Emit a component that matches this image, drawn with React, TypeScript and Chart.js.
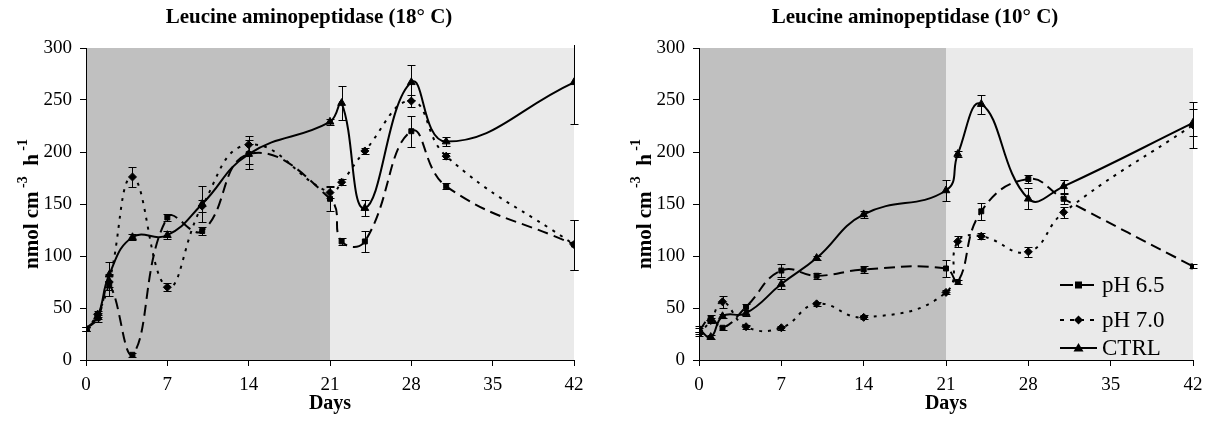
import React, { useEffect, useRef } from "react";
import { Chart, registerables } from "chart.js";

Chart.register(...registerables);

// ---------- data ----------
const days = [0, 1, 2, 4, 7, 10, 14, 21, 22, 24, 28, 31, 42];
const xTickValues = [0, 7, 14, 21, 28, 35, 42];
const yTickValues = [0, 50, 100, 150, 200, 250, 300];
const seriesLabels = ["pH 6.5", "pH 7.0", "CTRL"];
const phaseBoundaryDay = 21;
const titles = ["Leucine aminopeptidase (18° C)", "Leucine aminopeptidase (10° C)"];
const xAxisTitle = "Days";

// 18 °C
const ph65At18 = [30, 40, 72, 5, 137, 124, 198, 155, 114, 114, 220, 167, 111];
const ph65At18Err = [2, 3, 10, 2, 3, 4, 10, 12, 3, 10, 15, 3, 24];
const ph70At18 = [30, 44, 75, 176, 70, 148, 207, 161, 171, 201, 249, 196, 111];
const ph70At18Err = [2, 3, 8, 10, 4, 6, 8, 5, 3, 3, 6, 3, 24];
const ctrlAt18 = [30, 42, 82, 118, 120, 150, 198, 229, 247, 146, 267, 210, 267];
const ctrlAt18Err = [2, 3, 12, 3, 4, 17, 14, 3, 16, 8, 17, 4, 40];

// 10 °C
const ph65At10 = [28, 40, 31, 51, 86, 81, 87, 88, 75, 143, 174, 155, 90];
const ph65At10Err = [3, 3, 2, 3, 6, 3, 3, 8, 2, 8, 4, 5, 2];
const ph70At10 = [25, 38, 56, 32, 31, 54, 41, 65, 114, 119, 104, 142, 226];
const ph70At10Err = [2, 2, 6, 2, 2, 2, 2, 2, 5, 3, 5, 5, 22];
const ctrlAt10 = [30, 22, 42, 45, 73, 98, 140, 163, 198, 246, 155, 167, 228];
const ctrlAt10Err = [3, 2, 2, 3, 5, 2, 3, 10, 3, 9, 10, 6, 13];

// ---------- styles ----------
const FONT = "'Liberation Serif', 'Times New Roman', serif";
const SERIES_STYLE = [
  { dash: [11, 6], marker: "rect", radius: 3.5 },
  { dash: [3, 6], marker: "rectRot", radius: 4 },
  { dash: [], marker: "triangle", radius: 4.5 },
];
const DARK_BG = "#c0c0c0";
const LIGHT_BG = "#eaeaea";

type PanelProps = {
  title: string;
  values: number[][];
  errors: number[][];
  showLegend: boolean;
  plotLeft: number;
  plotRight: number;
};

const W = 606;
const H = 425;
const PLOT_TOP = 48;
const PLOT_BOTTOM = 360;

function Panel({ title, values, errors, showLegend, plotLeft, plotRight }: PanelProps) {
  const ref = useRef<HTMLCanvasElement | null>(null);

  useEffect(() => {
    const canvas = ref.current;
    if (!canvas) return;

    const datasets = values.map((vals, s) => ({
      label: seriesLabels[s],
      data: days.map((d, i) => ({ x: d, y: vals[i] })),
      borderColor: "#000",
      backgroundColor: "#000",
      borderWidth: 2,
      borderDash: SERIES_STYLE[s].dash,
      pointStyle: SERIES_STYLE[s].marker,
      pointRadius: SERIES_STYLE[s].radius,
      pointBackgroundColor: "#000",
      pointBorderColor: "#000",
      pointBorderWidth: 1,
      tension: 0.45,
      fill: false,
    }));

    const backgroundPlugin = {
      id: "phaseBackground",
      beforeDraw(chart: any) {
        const { ctx, chartArea, scales } = chart;
        const xb = scales.x.getPixelForValue(phaseBoundaryDay);
        ctx.save();
        ctx.fillStyle = DARK_BG;
        ctx.fillRect(chartArea.left, chartArea.top, xb - chartArea.left, chartArea.bottom - chartArea.top);
        ctx.fillStyle = LIGHT_BG;
        ctx.fillRect(xb, chartArea.top, chartArea.right - xb, chartArea.bottom - chartArea.top);
        ctx.restore();
      },
    };

    const errorBarPlugin = {
      id: "errorBars",
      afterDatasetsDraw(chart: any) {
        const { ctx, chartArea, scales } = chart;
        ctx.save();
        ctx.beginPath();
        ctx.rect(chartArea.left - 6, chartArea.top - 4, chartArea.right - chartArea.left + 12, chartArea.bottom - chartArea.top + 4);
        ctx.clip();
        ctx.strokeStyle = "#000";
        ctx.lineWidth = 1;
        ctx.setLineDash([]);
        values.forEach((vals, s) => {
          vals.forEach((v, i) => {
            const e = errors[s][i];
            if (!e) return;
            const px = Math.round(scales.x.getPixelForValue(days[i])) + 0.5;
            const yTop = Math.max(Math.round(scales.y.getPixelForValue(v + e)) + 0.5, chartArea.top - 3);
            const yBot = Math.round(scales.y.getPixelForValue(v - e)) + 0.5;
            ctx.beginPath();
            ctx.moveTo(px, yTop);
            ctx.lineTo(px, yBot);
            if (scales.y.getPixelForValue(v + e) >= chartArea.top) {
              ctx.moveTo(px - 4, yTop);
              ctx.lineTo(px + 4, yTop);
            }
            ctx.moveTo(px - 4, yBot);
            ctx.lineTo(px + 4, yBot);
            ctx.stroke();
          });
        });
        ctx.restore();
      },
    };

    const textPlugin = {
      id: "panelTexts",
      afterDraw(chart: any) {
        const { ctx, chartArea } = chart;
        ctx.save();
        ctx.fillStyle = "#000";
        // title
        ctx.font = `bold 21px ${FONT}`;
        ctx.textAlign = "center";
        ctx.textBaseline = "middle";
        ctx.fillText(title, W / 2 + 6, 18);

        // y axis title with superscripts
        const parts = [
          { t: "nmol cm", sup: false },
          { t: " -3", sup: true },
          { t: "  h", sup: false },
          { t: " -1", sup: true },
        ];
        const mainFont = `bold 21px ${FONT}`;
        const supFont = `bold 14px ${FONT}`;
        let total = 0;
        parts.forEach((p) => {
          ctx.font = p.sup ? supFont : mainFont;
          total += ctx.measureText(p.t).width;
        });
        const cx = chartArea.left - 53;
        const cy = (chartArea.top + chartArea.bottom) / 2;
        ctx.translate(cx, cy);
        ctx.rotate(-Math.PI / 2);
        ctx.textAlign = "left";
        ctx.textBaseline = "middle";
        let pos = -total / 2;
        parts.forEach((p) => {
          ctx.font = p.sup ? supFont : mainFont;
          ctx.fillText(p.t, pos, p.sup ? -10 : 0);
          pos += ctx.measureText(p.t).width;
        });
        ctx.restore();

        if (showLegend) {
          ctx.save();
          const lx0 = chartArea.right - 133;
          const lx1 = lx0 + 37;
          const rows = [chartArea.bottom - 75, chartArea.bottom - 40, chartArea.bottom - 12];
          ctx.font = `23px ${FONT}`;
          ctx.textAlign = "left";
          ctx.textBaseline = "middle";
          seriesLabels.forEach((lab, s) => {
            const y = rows[s];
            ctx.strokeStyle = "#000";
            ctx.lineWidth = 2;
            ctx.setLineDash(s === 0 ? [13, 8] : s === 1 ? [4, 6] : []);
            ctx.beginPath();
            ctx.moveTo(lx0, y);
            ctx.lineTo(lx1, y);
            ctx.stroke();
            ctx.setLineDash([]);
            const mx = (lx0 + lx1) / 2;
            ctx.fillStyle = "#000";
            ctx.beginPath();
            if (s === 0) {
              ctx.rect(mx - 3.5, y - 3.5, 7, 7);
            } else if (s === 1) {
              ctx.moveTo(mx, y - 4.5);
              ctx.lineTo(mx + 4.5, y);
              ctx.lineTo(mx, y + 4.5);
              ctx.lineTo(mx - 4.5, y);
              ctx.closePath();
            } else {
              ctx.moveTo(mx, y - 5);
              ctx.lineTo(mx + 5, y + 3.5);
              ctx.lineTo(mx - 5, y + 3.5);
              ctx.closePath();
            }
            ctx.fill();
            ctx.fillText(lab, lx1 + 5, y + 1);
          });
          ctx.restore();
        }
      },
    };

    const chart = new Chart(canvas, {
      type: "line",
      data: { datasets: datasets as any },
      options: {
        animation: false,
        responsive: false,
        maintainAspectRatio: false,
        layout: {
          padding: { left: 0, top: PLOT_TOP, right: W - plotRight, bottom: 0 },
        },
        plugins: {
          legend: { display: false },
          tooltip: { enabled: false },
          title: { display: false },
        },
        scales: {
          x: {
            type: "linear",
            min: 0,
            max: 42,
            afterBuildTicks: (scale: any) => {
              scale.ticks = xTickValues.map((v) => ({ value: v }));
            },
            afterFit: (scale: any) => {
              scale.height = H - PLOT_BOTTOM;
            },
            ticks: {
              color: "#000",
              font: { family: FONT, size: 19 },
              padding: 8,
              maxRotation: 0,
              autoSkip: false,
            },
            grid: {
              drawOnChartArea: false,
              drawTicks: true,
              tickLength: 6,
              color: "#000",
              lineWidth: 1,
            },
            border: { display: true, color: "#000", width: 1 },
            title: {
              display: true,
              text: xAxisTitle,
              color: "#000",
              font: { family: FONT, size: 20, weight: "bold" },
              padding: { top: 0, bottom: 9 },
            },
          },
          y: {
            type: "linear",
            min: 0,
            max: 300,
            afterBuildTicks: (scale: any) => {
              scale.ticks = yTickValues.map((v) => ({ value: v }));
            },
            afterFit: (scale: any) => {
              scale.width = plotLeft;
            },
            ticks: {
              color: "#000",
              font: { family: FONT, size: 19 },
              padding: 8,
            },
            grid: {
              drawOnChartArea: false,
              drawTicks: true,
              tickLength: 6,
              color: "#000",
              lineWidth: 1,
            },
            border: { display: true, color: "#000", width: 1 },
          },
        },
      } as any,
      plugins: [backgroundPlugin, errorBarPlugin, textPlugin],
    });

    return () => chart.destroy();
  }, [title, values, errors, showLegend, plotLeft, plotRight]);

  return <canvas ref={ref} width={W} height={H} style={{ display: "block", width: W, height: H }} />;
}

const leftValues = [ph65At18, ph70At18, ctrlAt18];
const leftErrors = [ph65At18Err, ph70At18Err, ctrlAt18Err];
const rightValues = [ph65At10, ph70At10, ctrlAt10];
const rightErrors = [ph65At10Err, ph70At10Err, ctrlAt10Err];

export default function App() {
  return (
    <div
      style={{
        position: "fixed",
        left: 0,
        top: 0,
        width: 1212,
        height: 425,
        display: "flex",
        background: "#fff",
      }}
    >
      <Panel title={titles[0]} values={leftValues} errors={leftErrors} showLegend={false} plotLeft={86} plotRight={574} />
      <Panel title={titles[1]} values={rightValues} errors={rightErrors} showLegend={true} plotLeft={93} plotRight={587} />
    </div>
  );
}
